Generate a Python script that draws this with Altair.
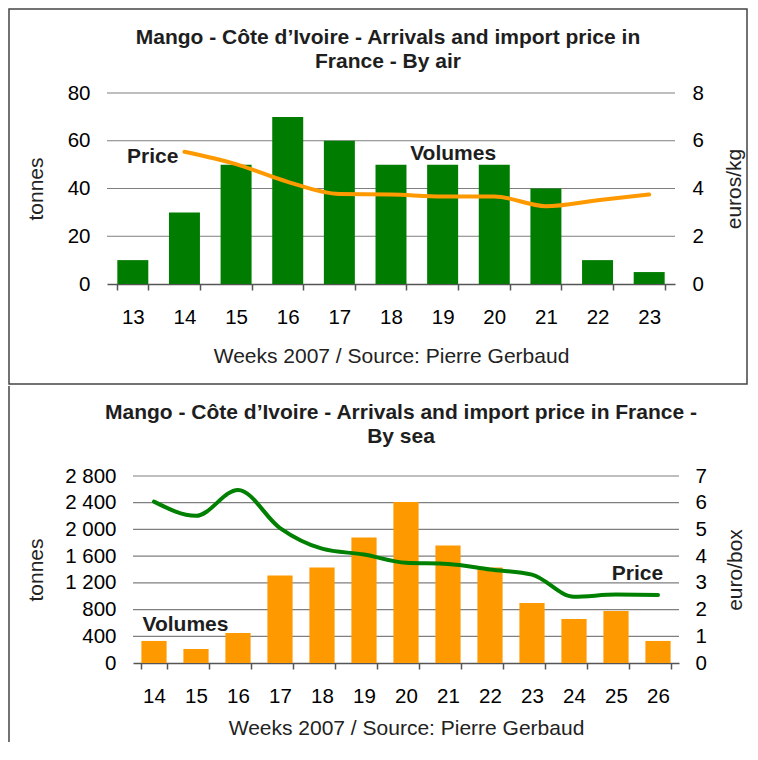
import altair as alt
import pandas as pd

FONT = "Liberation Sans, Arial, Helvetica, sans-serif"
GREEN = "#007c00"
ORANGE = "#ff9900"
GRID = "#7f7f7f"
AXIS = "#555555"
TEXT = "#1e1e1e"

# ---------------- By air ----------------
air_weeks = ["13", "14", "15", "16", "17", "18", "19", "20", "21", "22", "23"]
air_volumes = [10, 30, 50, 70, 60, 50, 50, 50, 40, 10, 5]
air_prices = [None, 5.54, 5.02, 4.28, 3.77, 3.75, 3.67, 3.67, 3.26, 3.51, 3.75]
air_tonnes_ticks = [0, 20, 40, 60, 80]
air_price_ticks = [0, 2, 4, 6, 8]
air_title = ["Mango - Côte d’Ivoire - Arrivals and import price in", "France - By air"]

# ---------------- By sea ----------------
sea_weeks = ["14", "15", "16", "17", "18", "19", "20", "21", "22", "23", "24", "25", "26"]
sea_volumes = [330, 210, 450, 1310, 1430, 1880, 2410, 1760, 1430, 900, 660, 780, 330]
sea_prices = [6.04, 5.51, 6.48, 5.05, 4.28, 4.06, 3.75, 3.71, 3.50, 3.31, 2.48, 2.56, 2.55]
sea_tonnes_ticks = [0, 400, 800, 1200, 1600, 2000, 2400, 2800]
sea_price_ticks = [0, 1, 2, 3, 4, 5, 6, 7]
sea_title = ["Mango - Côte d’Ivoire - Arrivals and import price in France -", "By sea"]

x_title = "Weeks 2007 / Source: Pierre Gerbaud"

one = pd.DataFrame({"k": [0]})

def x_axis(title_pad):
    return alt.Axis(title=x_title, labelAngle=0, tickBand="extent", ticks=True, tickSize=6,
                    tickColor=AXIS, tickWidth=1.5, domainColor=AXIS, domainWidth=1.5,
                    labelPadding=17, titlePadding=title_pad, labelFontSize=20.5,
                    titleFontSize=21, titleFontWeight="normal", labelColor="#000",
                    titleColor="#222", labelFont=FONT, titleFont=FONT, grid=False)

def y_axis(title, values, orient, label_pad, title_pad, offset=0, label_expr=None):
    kw = dict(title=title, values=values, orient=orient, grid=False, domain=False, ticks=False,
              labelPadding=label_pad, titlePadding=title_pad, labelFontSize=20.5,
              titleFontSize=21, titleFontWeight="normal", labelColor="#000",
              titleColor="#222", labelFont=FONT, titleFont=FONT, offset=offset)
    if orient == "right":
        kw["titleAngle"] = 270
        kw["titleBaseline"] = "top"
    if label_expr:
        kw["labelExpr"] = label_expr
    return alt.Axis(**kw)

# ================= top panel =================
AW, AH = 568, 191
air = pd.DataFrame({"week": air_weeks, "volume": air_volumes, "price": air_prices})
air_x = alt.X("week:N", sort=air_weeks,
              scale=alt.Scale(domain=air_weeks, paddingInner=0.4, paddingOuter=0.2),
              axis=x_axis(18))
air_vol_scale = alt.Scale(domain=[0, 80], nice=False)
air_price_scale = alt.Scale(domain=[0, 8], nice=False)
air_left_axis = y_axis("tonnes", air_tonnes_ticks, "left", 17, 21)
air_right_axis = y_axis("euros/kg", air_price_ticks, "right", 17, 20)

air_box = alt.Chart(one).mark_rect(fillOpacity=0, stroke="#444", strokeWidth=1.5).encode(
    x=alt.value(-98), x2=alt.value(640), y=alt.value(-84), y2=alt.value(291))
air_head = alt.Chart(one).mark_text(text=air_title, font=FONT, fontSize=21, fontWeight="bold",
                                    color=TEXT, align="center", baseline="alphabetic",
                                    lineHeight=24).encode(x=alt.value(281), y=alt.value(-49))
air_grid = alt.Chart(pd.DataFrame({"volume": air_tonnes_ticks[1:]})).mark_rule(
    color=GRID, strokeWidth=1.2).encode(
    y=alt.Y("volume:Q", scale=air_vol_scale, axis=air_left_axis), x=alt.value(0), x2=alt.value(AW))
air_bars = alt.Chart(air).mark_bar(color=GREEN).encode(
    x=air_x,
    y=alt.Y("volume:Q", scale=air_vol_scale, axis=air_left_axis))
air_vol_lab = alt.Chart(pd.DataFrame({"week": ["19"], "volume": [air_volumes[6]], "t": ["Volumes"]})).mark_text(
    font=FONT, fontSize=21, fontWeight="bold", color=TEXT, align="center", baseline="middle",
    dx=10.5, dy=-10.7).encode(x=air_x, y=alt.Y("volume:Q", scale=air_vol_scale, axis=air_left_axis), text="t:N")

air_line = alt.Chart(air).transform_filter("isValid(datum.price)").mark_line(
    color=ORANGE, strokeWidth=4, interpolate="monotone", strokeCap="round").encode(
    x=air_x,
    y=alt.Y("price:Q", scale=air_price_scale, axis=air_right_axis))
air_price_lab = alt.Chart(pd.DataFrame({"week": ["14"], "price": [air_prices[1]], "t": ["Price"]})).mark_text(
    font=FONT, fontSize=21, fontWeight="bold", color=TEXT, align="right", baseline="middle",
    dx=-6, dy=5.5).encode(x=air_x, y=alt.Y("price:Q", scale=air_price_scale, axis=air_right_axis), text="t:N")

top = alt.layer(
    alt.layer(air_box, air_head, air_grid, air_bars, air_vol_lab),
    alt.layer(air_line, air_price_lab),
).resolve_scale(y="independent").properties(width=AW, height=AH)

# ================= bottom panel =================
SW, SH = 572, 187
X0 = 26
sea = pd.DataFrame({"week": sea_weeks, "volume": sea_volumes, "price": sea_prices})
sea_x = alt.X("week:N", sort=sea_weeks,
              scale=alt.Scale(domain=sea_weeks, range=[X0, SW], paddingInner=0.4, paddingOuter=0.2),
              axis=x_axis(11))
sea_vol_scale = alt.Scale(domain=[0, 2800], nice=False)
sea_price_scale = alt.Scale(domain=[0, 7], nice=False)
sea_left_axis = y_axis("tonnes", sea_tonnes_ticks, "left", 17, 18, offset=-X0,
                       label_expr="replace(format(datum.value, ','), ',', ' ')")
sea_right_axis = y_axis("euro/box", sea_price_ticks, "right", 16, 18)

sea_left = alt.Chart(one).mark_rule(color="#444", strokeWidth=1.5).encode(
    x=alt.value(-98), y=alt.value(-90), y2=alt.value(266))
sea_head = alt.Chart(one).mark_text(text=sea_title, font=FONT, fontSize=21, fontWeight="bold",
                                    color=TEXT, align="center", baseline="alphabetic",
                                    lineHeight=23.5).encode(x=alt.value(294), y=alt.value(-56.7))
sea_grid = alt.Chart(pd.DataFrame({"volume": sea_tonnes_ticks[1:]})).mark_rule(
    color=GRID, strokeWidth=1.2).encode(
    y=alt.Y("volume:Q", scale=sea_vol_scale, axis=sea_left_axis), x=alt.value(X0), x2=alt.value(SW))
sea_bars = alt.Chart(sea).mark_bar(color=ORANGE).encode(
    x=sea_x,
    y=alt.Y("volume:Q", scale=sea_vol_scale, axis=sea_left_axis))
sea_vol_lab = alt.Chart(pd.DataFrame({"week": ["14"], "volume": [sea_volumes[0]], "t": ["Volumes"]})).mark_text(
    font=FONT, fontSize=21, fontWeight="bold", color=TEXT, align="left", baseline="middle",
    dx=-11.5, dy=-16).encode(x=sea_x, y=alt.Y("volume:Q", scale=sea_vol_scale, axis=sea_left_axis), text="t:N")

sea_line = alt.Chart(sea).mark_line(
    color="#008000", strokeWidth=4, interpolate="monotone", strokeCap="round").encode(
    x=sea_x,
    y=alt.Y("price:Q", scale=sea_price_scale, axis=sea_right_axis))
sea_price_lab = alt.Chart(pd.DataFrame({"week": ["25"], "price": [sea_prices[11]], "t": ["Price"]})).mark_text(
    font=FONT, fontSize=21, fontWeight="bold", color=TEXT, align="left", baseline="middle",
    dx=-4.3, dy=-21).encode(x=sea_x, y=alt.Y("price:Q", scale=sea_price_scale, axis=sea_right_axis), text="t:N")

bottom = alt.layer(
    alt.layer(sea_left, sea_head, sea_grid, sea_bars, sea_vol_lab),
    alt.layer(sea_line, sea_price_lab),
).resolve_scale(y="independent").properties(width=SW, height=SH)

chart = alt.vconcat(top, bottom, spacing=0).properties(
    padding=0, background="white"
).configure_view(strokeWidth=0)

chart.save("out.html", embed_options={"renderer": "svg", "actions": False})
